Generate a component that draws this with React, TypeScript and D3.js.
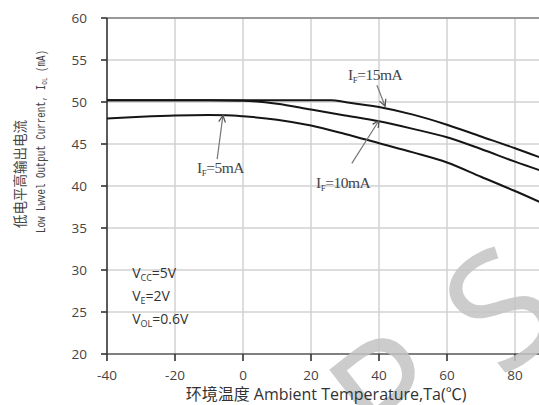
import React from "react";
import * as d3 from "d3";

// ---- data ----
const xTicks = [-40, -20, 0, 20, 40, 60, 80, 100];
const xTickLabels = [-40, -20, 0, 20, 40, 60, 80];
const yTicks = [20, 25, 30, 35, 40, 45, 50, 55, 60];

const temp15 = [-40, 0, 26, 30, 40, 50, 60, 70, 80, 90];
const iol15 = [50.2, 50.2, 50.2, 50.0, 49.4, 48.5, 47.3, 45.9, 44.5, 43.0];

const temp10 = [-40, -10, 0, 10, 20, 30, 40, 50, 60, 70, 80, 90];
const iol10 = [50.2, 50.2, 50.15, 49.8, 49.1, 48.4, 47.7, 46.8, 45.8, 44.4, 42.9, 41.5];

const temp5 = [-40, -30, -20, -10, -5, 0, 10, 20, 30, 40, 50, 60, 70, 80, 90];
const iol5 = [48.05, 48.25, 48.4, 48.45, 48.42, 48.3, 47.9, 47.2, 46.2, 45.1, 44.0, 42.8, 41.1, 39.4, 37.6];

const seriesNames = ["15mA", "10mA", "5mA"];

export default function App() {
  const W = 539, H = 405;
  const x = d3.scaleLinear().domain([-40, 100]).range([107, 583]);
  const y = d3.scaleLinear().domain([20, 60]).range([354, 18]);

  const line = d3
    .line<[number, number]>()
    .x((d) => x(d[0]))
    .y((d) => y(d[1]))
    .curve(d3.curveMonotoneX);

  const series = [
    temp15.map((t, i) => [t, iol15[i]] as [number, number]),
    temp10.map((t, i) => [t, iol10[i]] as [number, number]),
    temp5.map((t, i) => [t, iol5[i]] as [number, number]),
  ];

  // annotations: label start (T, v), arrow tail, arrow head
  const ann = [
    { name: seriesNames[0], lx: 30.9, ly: 52.6, fx: 39.4, fy: 52.0, tx: 41.8, ty: 49.5 },
    { name: seriesNames[2], lx: -13.5, ly: 41.5, fx: -7.6, fy: 43.2, tx: -5.9, ty: 48.4 },
    { name: seriesNames[1], lx: 21.5, ly: 39.8, fx: 32, fy: 42.7, tx: 40, ty: 47.8 },
  ];

  const gridColor = "#d2d2d2";
  const sans = "'Open Sans', 'Noto Sans', sans-serif";

  return (
    <svg
      width={W}
      height={H}
      style={{ position: "absolute", left: 0, top: 0, background: "#fff", overflow: "hidden" }}
    >
      <defs>
        <clipPath id="clip">
          <rect x={0} y={0} width={W} height={H} />
        </clipPath>
        <marker id="ah" viewBox="0 0 10 10" refX="9" refY="5" markerWidth="7" markerHeight="7" orient="auto">
          <path d="M1,1 L9,5 L1,9" fill="none" stroke="#555" strokeWidth="1.5" />
        </marker>
      </defs>
      <rect x={0} y={0} width={W} height={H} fill="#fff" />
      <g clipPath="url(#clip)">
        {/* grid */}
        {xTicks.filter((t) => t > -40).map((t) => (
          <line key={"gx" + t} x1={x(t)} x2={x(t)} y1={y(60)} y2={y(20)} stroke={gridColor} strokeWidth={1.5} />
        ))}
        {yTicks.filter((t) => t > 20 && t < 60).map((t) => (
          <line key={"gy" + t} x1={x(-40)} x2={x(100)} y1={y(t)} y2={y(t)} stroke={gridColor} strokeWidth={1.5} />
        ))}
        <line x1={x(-40)} x2={x(100)} y1={y(60)} y2={y(60)} stroke="#999" strokeWidth={2} />

        {/* axes */}
        <line x1={x(-40)} x2={x(-40)} y1={y(60)} y2={y(20)} stroke="#333" strokeWidth={1.6} />
        <line x1={x(-40)} x2={x(100)} y1={y(20)} y2={y(20)} stroke="#555" strokeWidth={1.6} />
        {yTicks.map((t) => (
          <line key={"ty" + t} x1={x(-40) - 6} x2={x(-40)} y1={y(t)} y2={y(t)} stroke="#333" strokeWidth={1.6} />
        ))}
        {xTicks.map((t) => (
          <line key={"tx" + t} x1={x(t)} x2={x(t)} y1={y(20)} y2={y(20) + 7} stroke="#333" strokeWidth={1.6} />
        ))}
        {yTicks.map((t) => (
          <text key={"ly" + t} x={x(-40) - 20} y={y(t)} dy="0.35em" textAnchor="end" fontFamily={sans} fontSize={13.5} fill="#444">
            {t}
          </text>
        ))}
        {xTickLabels.map((t) => (
          <text key={"lx" + t} x={x(t)} y={y(20) + 26} textAnchor="middle" fontFamily={sans} fontSize={13.5} fill="#444">
            {t}
          </text>
        ))}

        {/* watermark */}
        <g transform="translate(500,308) rotate(-38)" fontFamily={sans} fontSize={160} fill="#c4c4c4" opacity={0.85}>
          <text x={-140} y={0} dy="0.36em" textAnchor="middle">P</text>
          <text x={0} y={0} dy="0.36em" textAnchor="middle">S</text>
          <text x={115} y={0} dy="0.36em" textAnchor="middle">e</text>
        </g>

        {/* curves */}
        {series.map((s, i) => (
          <path key={"s" + i} d={line(s) || ""} fill="none" stroke="#151515" strokeWidth={2} />
        ))}

        {/* annotations */}
        {ann.map((a) => (
          <g key={"a" + a.name}>
            <line x1={x(a.fx)} y1={y(a.fy)} x2={x(a.tx)} y2={y(a.ty)} stroke="#777" strokeWidth={1.2} markerEnd="url(#ah)" />
            <text x={x(a.lx)} y={y(a.ly)} fontFamily="'Liberation Serif', 'DejaVu Serif', serif" fontSize={15.5} fill="#444" letterSpacing={-0.5}>
              I
              <tspan fontSize={9} dy={3}>F</tspan>
              <tspan dy={-3}>={a.name}</tspan>
            </text>
          </g>
        ))}

        {/* conditions */}
        <g fontFamily={sans} fontSize={14} fill="#333">
          <text x={x(-32.6)} y={y(29.05)}>
            V<tspan fontSize={9} dy={3}>CC</tspan><tspan dy={-3}>=5V</tspan>
          </text>
          <text x={x(-32.6)} y={y(26.3)}>
            V<tspan fontSize={9} dy={3}>E</tspan><tspan dy={-3}>=2V</tspan>
          </text>
          <text x={x(-32.6)} y={y(23.6)}>
            V<tspan fontSize={9} dy={3}>OL</tspan><tspan dy={-3}>=0.6V</tspan>
          </text>
        </g>

        {/* axis titles */}
        <text x={326} y={400} textAnchor="middle" fontFamily={"'Open Sans', 'Noto Sans CJK SC', sans-serif"} fontSize={16} fill="#333">
          环境温度 Ambient Temperature,Ta(℃)
        </text>
        <text transform="translate(25,228) rotate(-90)" fontFamily="'Noto Sans CJK SC', sans-serif" fontSize={13.5} fill="#444">
          低电平高输出电流
        </text>
        <text transform="translate(45,233) rotate(-90)" fontFamily="'Liberation Mono', monospace" fontSize={12} fill="#444" textLength={183} lengthAdjust="spacingAndGlyphs">
          Low Lwvel Output Current, I
          <tspan fontSize={8} dy={2}>OL</tspan>
          <tspan dy={-2}> (mA)</tspan>
        </text>
      </g>
    </svg>
  );
}
